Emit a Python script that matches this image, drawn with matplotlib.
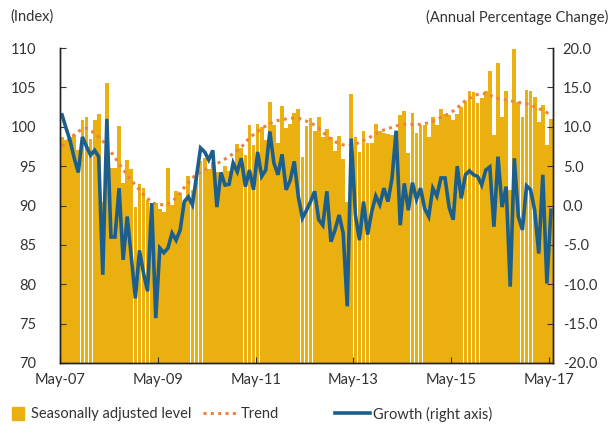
import matplotlib.pyplot as plt
from matplotlib.patches import Patch
from matplotlib.lines import Line2D

# monthly series, May-07 .. May-17
level = [98.7, 98.3, 98.7, 98.9, 97.0, 100.8, 101.3, 98.5, 100.8, 101.6,
         90.5, 105.6, 94.7, 94.7, 100.1, 92.9, 95.8, 94.6, 89.8, 92.7,
         92.2, 90.7, 90.3, 90.3, 89.5, 89.2, 94.8, 90.1, 91.8, 91.6,
         90.3, 93.7, 92.0, 94.1, 95.6, 96.0, 94.6, 95.5, 94.3, 94.0,
         95.0, 94.4, 95.3, 97.8, 97.3, 96.4, 100.2, 97.7, 100.4, 100.0,
         98.3, 103.1, 100.2, 97.9, 102.6, 99.8, 100.3, 101.8, 102.2, 96.1,
         100.1, 101.1, 99.4, 101.3, 98.7, 99.7, 98.7, 96.9, 98.8, 95.9,
         90.4, 104.1, 98.7, 96.8, 99.5, 97.9, 97.9, 100.4, 99.4, 99.2,
         99.1, 99.0, 99.0, 101.5, 102.0, 96.7, 101.8, 99.2, 100.2, 100.2,
         98.7, 101.3, 100.2, 102.2, 101.6, 101.5, 100.9, 101.6, 102.5, 103.3,
         104.5, 104.4, 103.0, 103.6, 104.5, 107.1, 99.0, 108.1, 101.3, 104.5,
         92.0, 109.9, 103.1, 101.3, 104.7, 104.5, 103.8, 100.6, 102.8, 97.7,
         101.0]

trend = [97.5, 98.0, 98.5, 99.0, 99.4, 99.7, 99.8, 99.6, 99.1, 98.7,
         98.2, 97.5, 96.8, 96.1, 95.3, 94.6, 93.9, 93.2, 92.6, 92.0,
         91.4, 90.9, 90.4, 90.2, 90.1, 90.1, 90.2, 90.5, 91.0, 91.6,
         92.3, 92.9, 93.5, 94.0, 94.2, 94.5, 94.8, 95.0, 95.3, 95.6,
         95.9, 96.2, 96.6, 97.0, 97.4, 98.0, 98.6, 99.0, 99.4, 99.8,
         100.1, 100.4, 100.6, 100.8, 100.9, 101.0, 101.1, 101.1, 101.1, 100.9,
         100.7, 100.5, 100.2, 99.8, 99.3, 98.9, 98.4, 98.1, 97.9, 97.7,
         97.6, 97.7, 97.8, 98.0, 98.3, 98.5, 98.8, 99.1, 99.4, 99.6,
         99.8, 99.9, 100.1, 100.2, 100.3, 100.3, 100.3, 100.3, 100.3, 100.4,
         100.5, 100.7, 100.9, 101.2, 101.4, 101.7, 102.0, 102.4, 102.9, 103.3,
         103.6, 103.9, 104.1, 104.2, 104.2, 104.0, 103.8, 103.6, 103.5, 103.4,
         103.3, 103.2, 103.1, 103.0, 102.9, 102.8, 102.5, 102.3, 102.1, 101.8,
         101.4]

growth = [11.5, 9.8, 8.2, 6.0, 4.2, 8.7, 7.5, 6.4, 7.0, 6.2,
          -8.8, 11.0, -4.0, -4.0, 2.2, -6.9, -1.4, -6.5, -11.8, -5.7,
          -8.6, -10.9, 0.3, -14.3, -5.4, -6.0, -5.4, -3.5, -4.4, -3.1,
          0.5, 1.1, 0.1, 3.7, 7.3, 6.8, 5.8, 7.0, -0.2, 4.2,
          2.6, 2.7, 5.4, 4.3, 6.0, 2.4, 4.5, 2.0, 6.8, 3.7,
          4.5, 9.4, 5.4, 3.9, 6.5, 2.0, 3.2, 5.6, 1.1, -1.6,
          -0.6, 0.5, 1.8, -1.8, -2.5, 1.8, -4.6, -3.1, -1.2, -3.5,
          -12.8, 8.5, -1.2, -4.4, 0.5, -3.7, -0.8, 1.2, 0.1, 2.2,
          0.5, 3.5, 9.5, -2.5, 2.8, -0.6, 2.9, 0.8, 2.2, -0.4,
          -1.4, 2.2, 1.2, 3.5, 3.5, -0.2, -1.8, 5.0, 0.9, 3.9,
          4.4, 3.9, 3.7, 2.6, 4.5, 4.9, -2.7, 6.2, -0.2, 2.4,
          -10.3, 6.0, -1.4, -3.1, 2.5, 2.0, -0.6, -6.1, 3.9, -9.9,
          -0.6]

tick_labels = ['May-07', 'May-09', 'May-11', 'May-13', 'May-15', 'May-17']
left_ticks = [70, 75, 80, 85, 90, 95, 100, 105, 110]
right_ticks = [-20, -15, -10, -5, 0, 5, 10, 15, 20]

GOLD = '#EAB010'
ORANGE = '#EE8240'
BLUE = '#1C5E8C'
TXT = '#333333'

plt.rcParams['font.family'] = ['Lato', 'DejaVu Sans']
plt.rcParams['font.size'] = 10.5

fig = plt.figure(figsize=(6.13, 4.26), dpi=100)
ax = fig.add_axes([60 / 613, 1 - 363 / 426, 493 / 613, 315 / 426])
ax2 = ax.twinx()

x = list(range(len(level)))
ax.bar(x, [v - 70 for v in level], bottom=70, width=0.92, color=GOLD, linewidth=0)
ax.plot(x, trend, color=ORANGE, linewidth=2.2, linestyle=(0, (1, 1.4)))
ax2.plot(x, growth, color=BLUE, linewidth=2.6, solid_joinstyle='miter')

ax.set_xlim(-0.5, len(level) - 0.5)
ax.set_ylim(70, 110)
ax2.set_ylim(-20, 20)

ax.set_xticks([i * 24 - 0.5 for i in range(len(tick_labels))])
ax.set_xticklabels(tick_labels)
ax.set_yticks(left_ticks)
ax.set_yticklabels([str(v) for v in left_ticks])
ax2.set_yticks(right_ticks)
ax2.set_yticklabels([f'{v:.1f}' for v in right_ticks])

for a in (ax, ax2):
    a.spines['top'].set_visible(False)
    for s in ('left', 'right', 'bottom'):
        a.spines[s].set_color('#222222')
        a.spines[s].set_linewidth(1.0)
ax.tick_params(axis='y', direction='in', length=4, pad=17, colors=TXT)
ax.tick_params(axis='x', direction='in', length=4, pad=7, colors=TXT)
ax2.tick_params(axis='y', direction='in', length=4, pad=7, colors=TXT)
for lab in ax.get_yticklabels() + ax.get_xticklabels() + ax2.get_yticklabels():
    lab.set_color(TXT)

fig.text(10 / 613, 1 - 17 / 426, '(Index)', color=TXT, va='center', ha='left')
fig.text(608 / 613, 1 - 17 / 426, '(Annual Percentage Change)', color=TXT,
         va='center', ha='right')

# legend entries placed one by one along the bottom
leg_y = 1 - 414 / 426
fig.legend([Patch(color=GOLD)], ['Seasonally adjusted level'],
           loc='center left', bbox_to_anchor=(-1 / 613, leg_y), frameon=False,
           handlelength=0.8, handleheight=1.0, handletextpad=0.5,
           labelcolor=TXT)
fig.legend([Line2D([], [], color=ORANGE, lw=2.2, ls=(0, (1, 1.4)))], ['Trend'],
           loc='center left', bbox_to_anchor=(190 / 613, leg_y), frameon=False,
           handlelength=2.4, handletextpad=0.2, labelcolor=TXT)
fig.legend([Line2D([], [], color=BLUE, lw=2.6)], ['Growth (right axis)'],
           loc='center left', bbox_to_anchor=(322 / 613, leg_y), frameon=False,
           handlelength=2.4, handletextpad=0.2, labelcolor=TXT)

fig.savefig('out.png', dpi=100)
